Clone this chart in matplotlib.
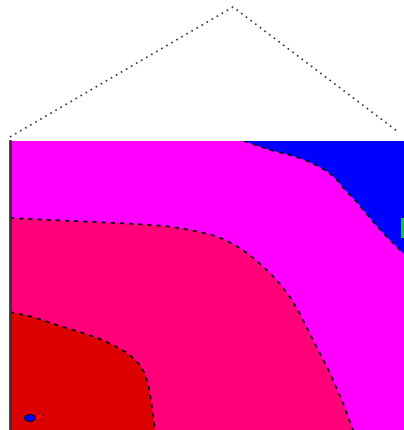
import matplotlib
matplotlib.use("Agg")
import matplotlib.pyplot as plt
from matplotlib.patches import Ellipse

# Region boundaries (x, y in plot pixel units, y downwards)
pink_edge_x = [10, 50, 95, 135, 165, 185, 200, 212, 223, 235, 247, 258, 270, 280, 290, 300, 313, 330, 343, 353]
pink_edge_y = [218, 220, 222, 224, 226, 229, 232, 235, 239, 245, 253, 262, 273, 284, 297, 314, 340, 373, 403, 430]

red_edge_x = [10, 33, 57, 83, 100, 113, 124, 132, 139, 144, 148, 151, 153, 155]
red_edge_y = [312, 317, 325, 333, 339, 345, 351, 357, 364, 372, 383, 400, 415, 430]

blue_edge_x = [244, 270, 290, 305, 318, 328, 337, 345, 355, 365, 375, 387, 404]
blue_edge_y = [141, 150, 155, 160, 166, 172, 180, 190, 200, 212, 224, 237, 254]

roof_x = [10, 233, 397]
roof_y = [137, 7, 131]

blob_x, blob_y = 30, 418
spot_x, spot_y = 39, 417

x_min, x_max, y_top, y_bot = 10, 404, 141, 430

col_red = "#dd0000"
col_pink = "#ff0078"
col_mag = "#ff00ff"
col_blue = "#0000ff"
col_green = "#00cc44"

W, H = 404, 430
fig = plt.figure(figsize=(W / 100, H / 100), dpi=100)

# overlay axes in pixel space for the roof line
bg = fig.add_axes([0, 0, 1, 1])
bg.set_xlim(0, W)
bg.set_ylim(H, 0)
bg.axis("off")
bg.plot(roof_x, roof_y, color="#333333", lw=1.2, linestyle=(0, (1, 2.5)))

ax = fig.add_axes([x_min / W, 0, (x_max - x_min) / W, (y_bot - y_top) / H])
ax.set_xlim(x_min, x_max)
ax.set_ylim(y_bot, y_top)
ax.set_xticks([])
ax.set_yticks([])
for s in ["top", "right", "bottom"]:
    ax.spines[s].set_visible(False)
ax.spines["left"].set_color("#333333")
ax.spines["left"].set_linewidth(2)

ax.set_facecolor(col_mag)

# pink region
ax.fill([x_min] + pink_edge_x + [x_min], [y_bot] + pink_edge_y + [y_bot], color=col_pink, lw=0)
# red region
ax.fill([x_min] + red_edge_x + [x_min], [y_bot] + red_edge_y + [y_bot], color=col_red, lw=0)
# blue region
ax.fill(blue_edge_x + [x_max], blue_edge_y + [y_top], color=col_blue, lw=0)
# green sliver at the right edge
ax.fill([401, 405, 405, 401], [218, 218, 238, 238], color=col_green, lw=0)

ls = (0, (2.5, 3))
ax.plot(pink_edge_x, pink_edge_y, color="black", lw=1.2, linestyle=ls)
ax.plot(red_edge_x, red_edge_y, color="black", lw=1.2, linestyle=ls)
ax.plot(blue_edge_x, blue_edge_y, color="black", lw=1.2, linestyle=ls)

# small blob near the lower-left corner
ax.add_patch(Ellipse((spot_x, spot_y), 9, 7, fc="#ff0000", ec="black", lw=0.8, linestyle=(0, (1, 2))))
ax.add_patch(Ellipse((blob_x, blob_y), 11, 7, fc=col_blue, ec="black", lw=0.6))

fig.savefig("out.png", dpi=100)
